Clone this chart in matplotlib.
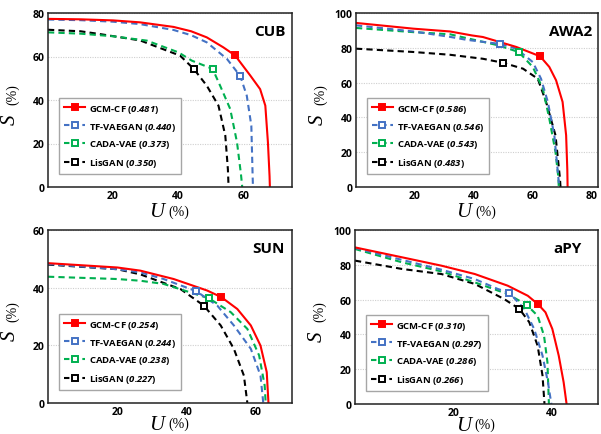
import matplotlib
matplotlib.use("Agg")
import matplotlib.pyplot as plt

plt.rcParams["font.family"] = "Open Sans"
plt.rcParams["font.weight"] = "bold"
plt.rcParams["mathtext.fontset"] = "custom"
plt.rcParams["mathtext.rm"] = "Open Sans:bold"
plt.rcParams["mathtext.bf"] = "Open Sans:bold"
plt.rcParams["mathtext.it"] = "Open Sans:italic:bold"
plt.rcParams["mathtext.bfit"] = "Open Sans:italic:bold"

methods = ["GCM-CF", "TF-VAEGAN", "CADA-VAE", "LisGAN"]
colors = ["#ff0000", "#4472c4", "#00b050", "#000000"]

# ---- CUB ----
cub_auc = [0.481, 0.440, 0.373, 0.350]
cub_u = [
    [0, 10, 20, 28.3, 38.6, 44, 48.8, 53.9, 57.5, 62.2, 65.2, 66.8, 67.6, 68.1, 68.2],
    [0, 10, 20, 28.3, 38.6, 44, 48.8, 55, 59.1, 61.1, 62.5, 62.9, 63.0],
    [0, 10, 20, 30.4, 40.1, 44.2, 50.6, 52.9, 56, 58.1, 59.3, 59.7],
    [0, 10, 16, 28.3, 40.6, 44.8, 48.8, 52.4, 54.5, 55.3, 55.5],
]
cub_s = [
    [77.3, 77.1, 76.6, 75.7, 73.6, 71.6, 68.8, 64.2, 60.5, 51.2, 45, 37.4, 20.5, 5, 0],
    [77.0, 76.7, 76.0, 74.9, 72.2, 69.8, 66.5, 58.9, 51.0, 42, 28.2, 5, 0],
    [71.1, 70.5, 69.3, 67.3, 61.9, 58.1, 54.3, 46.6, 35.9, 20.5, 6, 0],
    [72.3, 71.6, 70.3, 67.4, 60.4, 54.3, 46.6, 37.4, 23.6, 8, 0],
]
cub_mark_u = [57.5, 59.1, 50.6, 44.8]
cub_mark_s = [60.5, 51.0, 54.3, 54.3]

# ---- AWA2 ----
awa2_auc = [0.586, 0.546, 0.543, 0.483]
awa2_u = [
    [0, 19.4, 31.8, 39.3, 43, 54.3, 62.4, 65.5, 67.8, 70, 71.2, 71.6, 71.7],
    [0, 19.4, 31.8, 37.4, 48.9, 54.3, 59.9, 62.7, 65, 67.2, 68.7, 68.9],
    [0, 19.4, 31.8, 37.4, 48, 55.1, 59.9, 63.3, 65.5, 67.6, 68.6, 68.7],
    [0, 19.4, 31.8, 43, 49.8, 56.6, 61.6, 64.4, 67.6, 69.1, 69.3],
]
awa2_s = [
    [94.3, 91, 89.4, 87.1, 86.2, 80.5, 75.1, 69, 61.3, 48.9, 29.7, 10, 0],
    [92.9, 89.4, 86.3, 84.6, 82.2, 79.5, 71.8, 62.2, 48.9, 29.7, 3, 0],
    [91.4, 89, 87.8, 85.6, 81.5, 77.6, 69, 56.5, 39.3, 20.1, 5, 0],
    [79.5, 77.6, 76, 73.7, 71.4, 68, 62.2, 48.9, 29.7, 5, 0],
]
awa2_mark_u = [62.4, 48.9, 55.1, 49.8]
awa2_mark_s = [75.1, 82.2, 77.6, 71.4]

# ---- SUN ----
sun_auc = [0.254, 0.244, 0.238, 0.227]
sun_u = [
    [0, 20, 26.7, 36.3, 46, 50.1, 54.7, 58.6, 61.4, 63.2, 63.7],
    [0, 20, 26.7, 33.4, 42.8, 48.9, 53.7, 58.6, 61.4, 62.2],
    [0, 20, 26.7, 33.4, 46.5, 52.8, 57.6, 61, 62.6, 62.9],
    [0, 20, 26.7, 38.3, 45, 49.9, 53.7, 56.6, 57.6],
]
sun_s = [
    [48.5, 47, 45.9, 43, 39, 36.7, 32.6, 26.9, 19.9, 10.7, 0],
    [48.2, 46.4, 45.3, 43, 38.8, 33.8, 26.9, 18.8, 9.5, 0],
    [43.8, 43, 42.4, 41.3, 36.3, 31.5, 25.7, 16.5, 6.1, 0],
    [48, 46.4, 44.6, 39.5, 33.8, 26.9, 18.8, 9.5, 0],
]
sun_mark_u = [50.1, 42.8, 46.5, 45.0]
sun_mark_s = [36.7, 38.8, 36.3, 33.8]

# ---- aPY ----
apy_auc = [0.310, 0.297, 0.286, 0.266]
apy_u = [
    [0, 9.6, 17.6, 24.4, 31.1, 35.2, 37.3, 38.8, 40.2, 41.5, 42.5, 43.1],
    [0, 9.6, 17.6, 24.4, 29.1, 31.4, 34.5, 36.5, 38.2, 39.3, 40],
    [0, 9.6, 17.6, 24.4, 31.1, 35, 37.2, 38.5, 39.2, 39.5],
    [0, 9.6, 17.6, 24.4, 30.4, 33.5, 35.5, 37.2, 38.2, 38.6],
]
apy_s = [
    [90, 84.3, 79.5, 74.7, 68, 62.2, 57.3, 52.7, 43.1, 27.8, 12.5, 0],
    [89.7, 82.8, 77.2, 71.8, 66.1, 64, 54.6, 43.1, 27.8, 12.5, 0],
    [89.1, 81.4, 76.2, 69.9, 63.2, 56.9, 50.7, 39.3, 24, 0],
    [82.4, 77.6, 74.7, 69, 60.3, 54.6, 47, 33.5, 16.3, 0],
]
apy_mark_u = [37.3, 31.4, 35.0, 33.5]
apy_mark_s = [57.3, 64.0, 56.9, 54.6]

W, H = 601, 435
fig = plt.figure(figsize=(W / 100, H / 100), dpi=100)


def px_axes(left, top, right, bottom):
    return fig.add_axes([left / W, (H - bottom) / H, (right - left) / W, (bottom - top) / H])


def panel(ax, us, ss, mu, ms, aucs, name, xmax, ymax, xticks, yticks, name_x, label_y):
    handles = [None] * 4
    for i in reversed(range(4)):
        ls = "-" if i == 0 else (0, (3, 2))
        ax.plot(us[i], ss[i], color=colors[i], lw=1.5, ls=ls, zorder=2 + (4 - i) * 0.1,
                solid_capstyle="butt", dash_capstyle="butt")
    for i in reversed(range(4)):
        ls = "-" if i == 0 else (0, (2.6, 1.8))
        fc = colors[i] if i == 0 else "white"
        h, = ax.plot([mu[i]], [ms[i]], color=colors[i], lw=1.5, ls=ls, marker="s",
                     markersize=4.6, markeredgewidth=1.4, markerfacecolor=fc,
                     markeredgecolor=colors[i], zorder=4,
                     label=r"%s ($\mathbfit{%.3f}$)" % (methods[i], aucs[i]))
        handles[i] = h
    leg = ax.legend(handles=handles, loc="lower left", bbox_to_anchor=(0.045, 0.075),
                    prop={"family": "Open Sans", "weight": "bold", "size": 6.8},
                    frameon=True, fancybox=False, edgecolor="#a6a6a6", framealpha=1,
                    borderpad=0.5, labelspacing=0.62, handlelength=2.3,
                    handletextpad=0.4, borderaxespad=0)
    leg.get_frame().set_linewidth(1.0)
    ax.set_xlim(0, xmax)
    ax.set_ylim(0, ymax)
    ax.set_xticks(xticks)
    ax.set_yticks(yticks)
    ax.tick_params(length=0, pad=2.5, labelsize=7.5)
    ax.yaxis.grid(True, color="#cfcfcf", linestyle=(0, (1, 1.2)), linewidth=0.8)
    ax.set_axisbelow(True)
    for sp in ax.spines.values():
        sp.set_linewidth(1.1)
        sp.set_color("#222222")
    ax.text(name_x, 0.935, name, transform=ax.transAxes, ha="right", va="top",
            fontsize=11, fontweight="bold")
    serif = "Liberation Serif"
    ax.annotate("U", xy=(0.5, 0), xycoords="axes fraction", xytext=(-15, label_y),
                textcoords="offset points", ha="left", va="baseline", fontsize=15,
                family=serif, style="italic", weight="normal")
    ax.annotate("(%)", xy=(0.5, 0), xycoords="axes fraction", xytext=(-1.5, label_y + 1),
                textcoords="offset points", ha="left", va="baseline", fontsize=10,
                family=serif, weight="normal")
    ax.annotate("S", xy=(0, 0.5), xycoords="axes fraction", xytext=(-24, -17),
                textcoords="offset points", ha="left", va="baseline", fontsize=15,
                family=serif, style="italic", weight="normal", rotation=90,
                rotation_mode="anchor")
    ax.annotate("(%)", xy=(0, 0.5), xycoords="axes fraction", xytext=(-23, -3),
                textcoords="offset points", ha="left", va="baseline", fontsize=10,
                family=serif, weight="normal", rotation=90, rotation_mode="anchor")


ax1 = px_axes(48, 14, 292, 188)
panel(ax1, cub_u, cub_s, cub_mark_u, cub_mark_s, cub_auc, "CUB", 75, 80,
      [20, 40, 60], [0, 20, 40, 60, 80], 0.972, -21)

ax2 = px_axes(356, 14, 598, 188)
panel(ax2, awa2_u, awa2_s, awa2_mark_u, awa2_mark_s, awa2_auc, "AWA2", 82, 100,
      [20, 40, 60, 80], [0, 20, 40, 60, 80, 100], 0.975, -21)

ax3 = px_axes(48, 231, 292, 404)
panel(ax3, sun_u, sun_s, sun_mark_u, sun_mark_s, sun_auc, "SUN", 70.5, 60,
      [20, 40, 60], [0, 20, 40, 60], 0.97, -18.5)

ax4 = px_axes(355, 231, 598, 405)
panel(ax4, apy_u, apy_s, apy_mark_u, apy_mark_s, apy_auc, "aPY", 49.5, 100,
      [20, 40], [0, 20, 40, 60, 80, 100], 0.934, -18.5)

fig.savefig("out.png", dpi=100)
